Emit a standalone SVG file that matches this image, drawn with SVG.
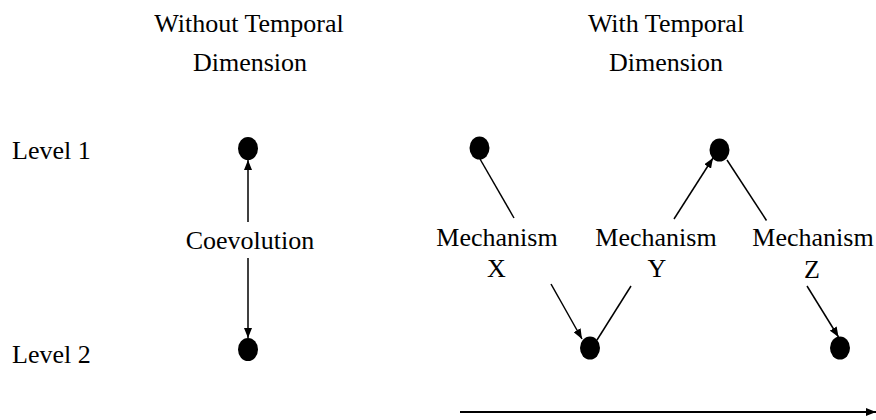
<svg xmlns="http://www.w3.org/2000/svg" width="876" height="420" viewBox="0 0 876 420">
  <style>
    text { font-family: "Liberation Serif", "Times New Roman", serif; font-size: 26px; fill: #000; }
    .c { text-anchor: middle; }
    .ln { stroke: #000; stroke-width: 1.5; fill: none; }
    .time { stroke: #000; stroke-width: 2; fill: none; }
    .dot { fill: #000; }
  </style>
  <defs>
    <marker id="ah" markerUnits="userSpaceOnUse" markerWidth="10" markerHeight="8" refX="10" refY="4" orient="auto">
      <path d="M0,0 L10,4 L0,8 z" fill="#000"/>
    </marker>
  </defs>

  <g id="headers">
    <text class="c" x="249" y="32">Without Temporal</text>
    <text class="c" x="250" y="71">Dimension</text>
    <text class="c" x="666" y="32">With Temporal</text>
    <text class="c" x="666" y="71">Dimension</text>
  </g>

  <g id="level-labels">
    <text x="12" y="159">Level 1</text>
    <text x="12" y="363">Level 2</text>
  </g>

  <g id="connectors">
    <line class="ln" x1="248" y1="222" x2="248" y2="160" marker-end="url(#ah)"/>
    <line class="ln" x1="248" y1="258" x2="248" y2="338" marker-end="url(#ah)"/>
    <line class="ln" x1="480" y1="159" x2="514" y2="218"/>
    <line class="ln" x1="551" y1="284" x2="582" y2="339" marker-end="url(#ah)"/>
    <line class="ln" x1="631" y1="286" x2="597" y2="340"/>
    <line class="ln" x1="674" y1="219" x2="713" y2="158" marker-end="url(#ah)"/>
    <line class="ln" x1="727" y1="160" x2="766.5" y2="220.5"/>
    <line class="ln" x1="807" y1="286" x2="838.5" y2="337" marker-end="url(#ah)"/>
    <line class="time" x1="460" y1="412" x2="876" y2="412" marker-end="url(#ah)"/>
  </g>

  <g id="node-left-1"><ellipse class="dot" cx="248" cy="148.5" rx="10" ry="11.5"/></g>
  <g id="node-left-2"><ellipse class="dot" cx="248" cy="349.5" rx="10" ry="11.5"/></g>
  <g id="node-right-1a"><ellipse class="dot" cx="479.5" cy="148" rx="10" ry="11.5"/></g>
  <g id="node-right-2a"><ellipse class="dot" cx="590" cy="348" rx="10" ry="11.5"/></g>
  <g id="node-right-1b"><ellipse class="dot" cx="719.5" cy="150" rx="10" ry="11.5"/></g>
  <g id="node-right-2b"><ellipse class="dot" cx="840" cy="348" rx="10" ry="11.5"/></g>

  <g id="label-coevolution"><text class="c" x="250" y="249">Coevolution</text></g>
  <g id="label-x">
    <text class="c" x="497" y="246">Mechanism</text>
    <text class="c" x="496.5" y="277">X</text>
  </g>
  <g id="label-y">
    <text class="c" x="656" y="246">Mechanism</text>
    <text class="c" x="657" y="277">Y</text>
  </g>
  <g id="label-z">
    <text class="c" x="813" y="246">Mechanism</text>
    <text class="c" x="812" y="278">Z</text>
  </g>
</svg>
